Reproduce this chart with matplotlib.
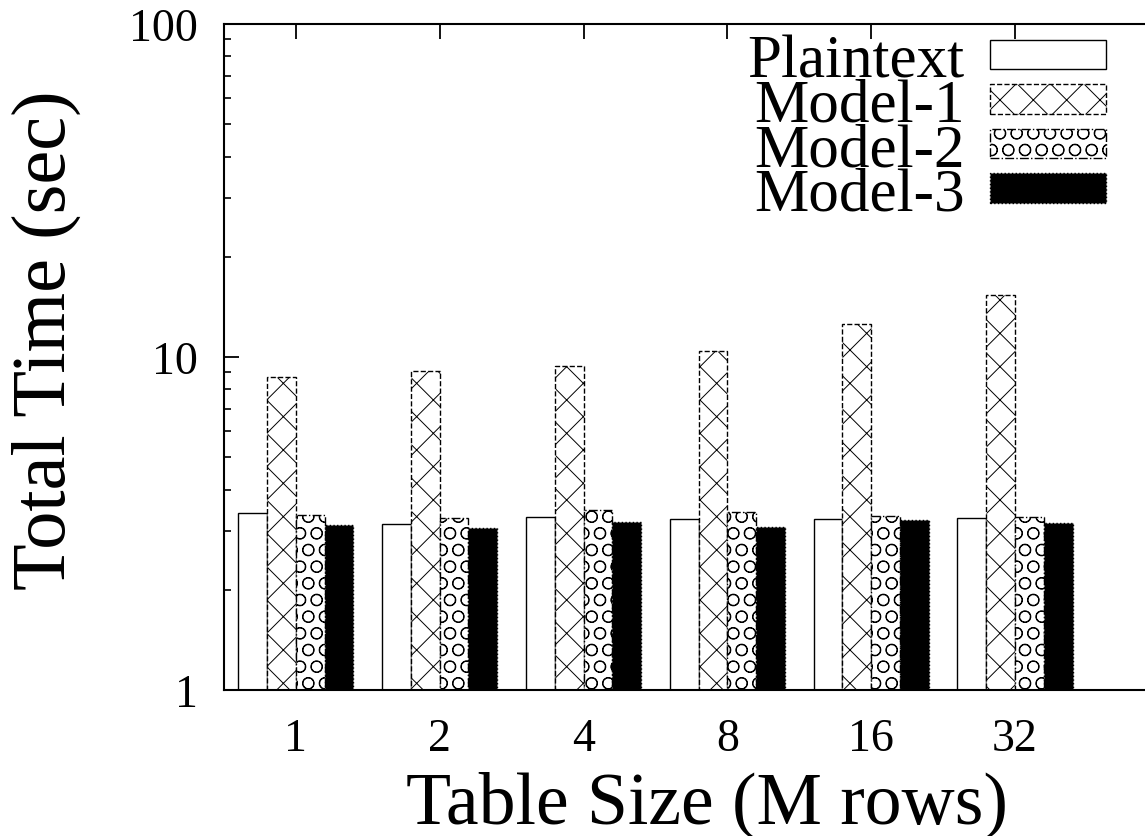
import numpy as np
import matplotlib
matplotlib.use("Agg")
import matplotlib.pyplot as plt
from matplotlib.ticker import NullFormatter

plt.rcParams["font.family"] = ["Liberation Serif", "DejaVu Serif"]
plt.rcParams["hatch.linewidth"] = 0.7

# table sizes (M rows) and total times (sec)
sizes = ["1", "2", "4", "8", "16", "32"]
plaintext = [3.40, 3.15, 3.31, 3.26, 3.26, 3.28]
model1 = [8.7, 9.08, 9.4, 10.4, 12.6, 15.4]
model2 = [3.35, 3.29, 3.47, 3.42, 3.33, 3.31]
model3 = [3.13, 3.06, 3.19, 3.09, 3.24, 3.17]

series = [
    ("Plaintext", plaintext, dict(color="white", hatch=None, ls="-")),
    ("Model-1", model1, dict(color="white", hatch="x", ls="--")),
    ("Model-2", model2, dict(color="white", hatch="O", ls="-.")),
    ("Model-3", model3, dict(color="black", hatch=None, ls=":")),
]

fig = plt.figure(figsize=(11.45, 8.37), dpi=100)
ax = fig.add_axes([224/1145, 1 - 691/837, 921/1145 + 0.002, 666/837])

x = np.arange(len(sizes))
w = 0.2
for j, (name, vals, st) in enumerate(series):
    ax.bar(x + (j - 1.5)*w, vals, width=w, bottom=0, color=st["color"],
           hatch=st["hatch"], edgecolor="black", linestyle=st["ls"], lw=1.0,
           label=name)

ax.set_yscale("log")
ax.set_ylim(1, 100)
ax.set_xlim(-0.5, 5.92)
ax.set_yticks([1, 10, 100])
ax.set_yticklabels(["1", "10", "100"])
ax.yaxis.set_minor_formatter(NullFormatter())
ax.set_xticks(x)
ax.set_xticklabels(sizes)

ax.tick_params(axis="y", which="major", direction="in", length=11, width=1.3,
               labelsize=33, pad=19)
ax.tick_params(axis="y", which="minor", direction="in", length=5, width=1.2)
ax.tick_params(axis="x", which="major", direction="in", length=0, labelsize=33,
               pad=20)
# mirrored x ticks on top only
sec = ax.secondary_xaxis("top")
sec.set_xticks(x)
sec.set_xticklabels([])
sec.tick_params(direction="in", length=11, width=1.3)
sec.spines["top"].set_visible(False)

for s in ["left", "bottom", "top"]:
    ax.spines[s].set_linewidth(1.5)
ax.spines["right"].set_visible(False)

ax.set_xlabel("Table Size (M rows)", fontsize=53)
ax.xaxis.set_label_coords(0.523, (691 - 823) / 666)
ax.xaxis.label.set_va("baseline")
ax.set_ylabel("Total Time (sec)", fontsize=55)
ax.yaxis.set_label_coords((65 - 224) / 921, 0.527)
ax.yaxis.label.set_va("baseline")

ax.legend(loc="upper right", bbox_to_anchor=(0.9555, 0.985), frameon=False,
          fontsize=44, markerfirst=False, borderpad=0, borderaxespad=0,
          handlelength=1.9, handleheight=0.36, handletextpad=0.42,
          labelspacing=-0.18)

fig.savefig("out.png", dpi=100)
